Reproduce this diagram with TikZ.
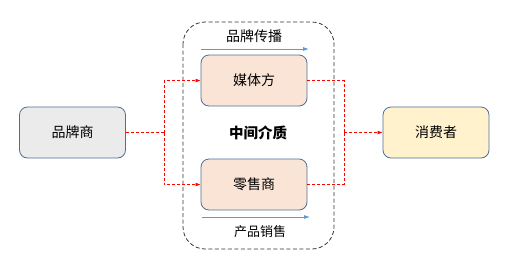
\documentclass[tikz,border=0pt]{standalone}
\usepackage{fontspec}
\newfontfamily\cjk{Noto Sans CJK SC}
\usetikzlibrary{arrows.meta}
\definecolor{edgeblue}{HTML}{4F6F9A}
\definecolor{arrowblue}{HTML}{5B9BD5}
\definecolor{grayfill}{HTML}{EBEBEB}
\definecolor{peach}{HTML}{FAE4D6}
\definecolor{cream}{HTML}{FFF2CC}
\begin{document}
\begin{tikzpicture}[x=1pt,y=-1pt,
  box/.style={draw=edgeblue, line width=0.8pt, rounded corners=8pt, minimum width=106pt, minimum height=51pt, inner sep=0pt, font=\cjk\fontsize{14}{14}\selectfont},
  flow/.style={draw=red, dashed, line width=0.8pt, dash pattern=on 3pt off 2pt},
  flowarrow/.style={flow, -{Latex[length=5pt,width=4pt]}},
  bluearrow/.style={draw=arrowblue, line width=0.8pt, -{Latex[length=6pt,width=4pt]}},
  lbl/.style={font=\cjk\fontsize{14}{14}\selectfont, inner sep=0pt}]
\useasboundingbox (0,0) rectangle (509,274);
\draw[black!80, line width=0.8pt, dashed, dash pattern=on 4pt off 2.5pt, rounded corners=22pt] (183,22) rectangle (334,249);
\node[box, fill=grayfill] (brand) at (72.5,132.5) {品牌商};
\node[box, fill=peach] (media) at (254,80.5) {媒体方};
\node[box, fill=peach] (retail) at (254,184.5) {零售商};
\node[box, fill=cream] (cons) at (436,132.5) {消费者};
\node[font=\cjk\bfseries\fontsize{14.5}{14.5}\selectfont, inner sep=0pt] (mid) at (258,133) {中间介质};
\node[lbl] (t1) at (254,36) {品牌传播};
\node[lbl, font=\cjk\fontsize{13}{13}\selectfont] (t2) at (260,232) {产品销售};
\coordinate (a1) at (201,49); \coordinate (a2) at (309,49);
\coordinate (b1) at (202,217); \coordinate (b2) at (310,217);
\draw[bluearrow] (a1) -- (a2);
\draw[bluearrow] (b1) -- (b2);
\coordinate (lj) at (164,132.5);
\coordinate (rj) at (344,132.5);
\draw[flow] (brand.east) -- (lj);
\draw[flowarrow] (lj) |- (media.west);
\draw[flowarrow] (lj) |- (retail.west);
\draw[flow] (media.east) -| (rj);
\draw[flow] (retail.east) -| (rj);
\draw[flowarrow] (rj) -- (cons.west);
\end{tikzpicture}
\end{document}
